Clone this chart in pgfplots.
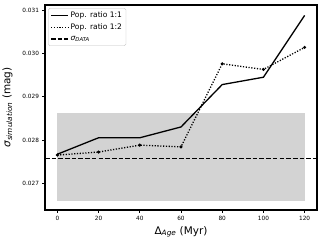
\documentclass[border=0pt]{standalone}
\usepackage{fontspec}
\setmainfont{DejaVu Sans}
\usepackage{pgfplots}
\pgfplotsset{compat=1.18}
\definecolor{lgray}{RGB}{211,211,211}
\begin{document}
\begin{tikzpicture}
\useasboundingbox (-45bp,-32bp) rectangle (280bp,210bp);
\begin{axis}[
  scale only axis, width=272bp, height=205bp,
  at={(0,0)}, anchor=south west,
  xmin=-6, xmax=126, ymin=0.02638, ymax=0.03112,
  xtick={0,20,40,60,80,100,120},
  ytick={0.027,0.028,0.029,0.030,0.031},
  scaled y ticks=false,
  yticklabel style={/pgf/number format/.cd, fixed, fixed zerofill, precision=3},
  /pgf/number format/assume math mode=true,
  tick label style={font=\fontsize{5.8}{6}\selectfont},
  tick align=outside, tick pos=left,
  major tick length=2.5bp,
  every tick/.style={black, line width=0.6bp},
  axis line style={line width=1.1bp},
  xlabel={\fontsize{10.5}{12}\selectfont Δ\textsubscript{\itshape Age} (Myr)},
  ylabel={\fontsize{10.5}{12}\selectfont {\itshape σ}\textsubscript{\itshape simulation} (mag)},
  xlabel style={yshift=1bp},
  ylabel style={yshift=3bp},
  legend style={at={(0.012,0.985)}, anchor=north west, font=\fontsize{7.6}{9}\selectfont,
    draw=black!25, rounded corners=1.5bp, inner sep=1.9bp, row sep=0.8bp},
  legend cell align=left,
  legend image post style={mark=none},
]
\addplot[fill=lgray, draw=none, forget plot] coordinates {(0,0.02659) (120,0.02659) (120,0.02862) (0,0.02862)} -- cycle;
\addplot[black, line width=1.3bp] coordinates {
(0,0.02767) (20,0.02805) (40,0.02805) (60,0.0283) (80,0.02928) (100,0.02945) (120,0.03088)};
\addlegendentry{Pop. ratio 1:1}
\addplot[black, line width=1.3bp, dash pattern=on 1.2bp off 1.6bp, mark=*, mark size=0.8bp, mark options={solid}] coordinates {
(0,0.02765) (20,0.02772) (40,0.02788) (60,0.02784) (80,0.02976) (100,0.02963) (120,0.03014)};
\addlegendentry{Pop. ratio 1:2}
\addplot[black, line width=1.3bp, dash pattern=on 4.6bp off 2.1bp] coordinates {(-6,0.02757) (126,0.02757)};
\addlegendentry{{\itshape σ}\textsubscript{\itshape DATA}}
\end{axis}
\end{tikzpicture}
\end{document}
